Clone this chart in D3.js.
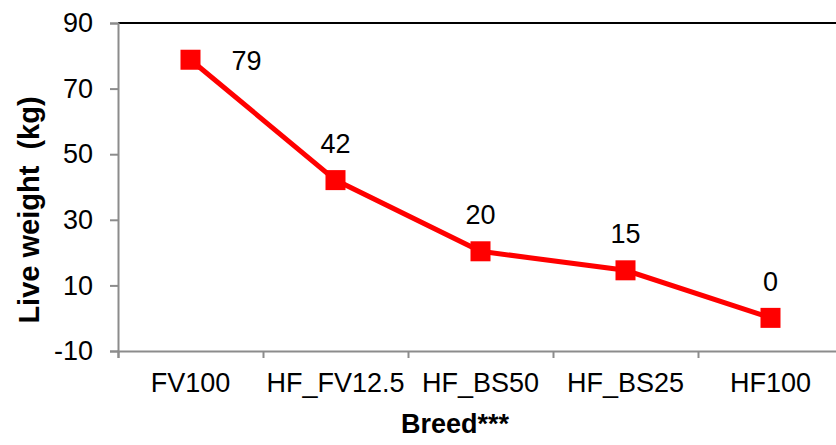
<!DOCTYPE html>
<html>
<head>
<meta charset="utf-8">
<script src="https://cdn.jsdelivr.net/npm/d3@7"></script>
<style>
  body { margin: 0; background: #fff; }
  text { font-family: "Liberation Sans", Arial, sans-serif; }
</style>
</head>
<body>
<div id="chart"></div>
<script>
// chart data
var breeds = ["FV100", "HF_FV12.5", "HF_BS50", "HF_BS25", "HF100"]
var weights = [78.8, 42.1, 20.4, 14.6, 0.1]
var yTicks = [-10, 10, 30, 50, 70, 90]

var width = 836
var height = 445
var margin = {top: 23, left: 118, bottom: 94}

var svg = d3.select("#chart")
  .append("svg")
    .attr("width", width)
    .attr("height", height)

// 5 bands of equal width, the last one runs off the right edge
var x = d3.scaleBand()
  .domain(breeds)
  .range([margin.left, margin.left + 145 * breeds.length])

var y = d3.scaleLinear()
  .domain([-10, 90])
  .range([height - margin.bottom, margin.top])

var grey = "#8c8c8c"

// top border of plot area
svg.append("line")
  .attr("x1", margin.left).attr("x2", width)
  .attr("y1", y(90)).attr("y2", y(90))
  .attr("stroke", "#000").attr("stroke-width", 2)

// y axis
var yAxis = svg.append("g")
  .attr("transform", "translate(" + margin.left + ",0)")
  .call(d3.axisLeft(y).tickValues(yTicks).tickSize(8).tickPadding(17)
    .tickFormat(function(d) { return d < 0 ? "-" + Math.abs(d) : d }))
yAxis.select(".domain").attr("stroke", grey).attr("stroke-width", 2)
yAxis.selectAll(".tick line").attr("stroke", grey).attr("stroke-width", 2)
yAxis.selectAll(".tick text")
  .attr("font-size", 27).attr("fill", "#000")
  .attr("font-family", "Liberation Sans, Arial, sans-serif")

// x axis: ticks on band boundaries, labels in the middle
var bounds = d3.scaleLinear().domain([0, breeds.length]).range(x.range())
var xTickAxis = svg.append("g")
  .attr("transform", "translate(0," + y(-10) + ")")
  .call(d3.axisBottom(bounds).ticks(breeds.length).tickSize(7).tickFormat(""))
xTickAxis.select(".domain").attr("stroke", grey).attr("stroke-width", 2)
xTickAxis.selectAll(".tick line").attr("stroke", grey).attr("stroke-width", 2)

var xLabelAxis = svg.append("g")
  .attr("transform", "translate(0," + y(-10) + ")")
  .call(d3.axisBottom(x).tickSize(0).tickPadding(22))
xLabelAxis.select(".domain").remove()
xLabelAxis.selectAll(".tick text")
  .attr("font-size", 27).attr("fill", "#000")
  .attr("font-family", "Liberation Sans, Arial, sans-serif")

// axis titles
svg.append("text")
  .attr("transform", "translate(39,210) rotate(-90)")
  .attr("text-anchor", "middle")
  .attr("font-size", 29)
  .attr("font-weight", "bold")
  .style("white-space", "pre")
  .text("Live weight  (kg)")

svg.append("text")
  .attr("x", 455)
  .attr("y", 433)
  .attr("text-anchor", "middle")
  .attr("font-size", 27)
  .attr("font-weight", "bold")
  .text("Breed***")

// line + markers
var cx = function(d, i) { return x(breeds[i]) + x.bandwidth() / 2 }

var line = d3.line()
  .x(cx)
  .y(function(d) { return y(d) })

svg.append("path")
  .datum(weights)
  .attr("d", line)
  .attr("fill", "none")
  .attr("stroke", "#ff0000")
  .attr("stroke-width", 5)

svg.selectAll(".marker")
  .data(weights)
  .enter()
  .append("rect")
    .attr("class", "marker")
    .attr("x", function(d, i) { return cx(d, i) - 10 })
    .attr("y", function(d) { return y(d) - 10 })
    .attr("width", 20)
    .attr("height", 20)
    .attr("fill", "#ff0000")

// value labels: above the point, or to the right when it would hit the top
var nearTop = function(d) { return y(d) - 37 < y(86) }
svg.selectAll(".label")
  .data(weights)
  .enter()
  .append("text")
    .attr("class", "label")
    .attr("font-size", 27)
    .attr("text-anchor", "middle")
    .attr("x", function(d, i) { return nearTop(d) ? cx(d, i) + 56 : cx(d, i) })
    .attr("y", function(d) { return nearTop(d) ? y(d) + 10 : y(d) - 27 })
    .text(function(d) { return d3.format(".0f")(d) })
</script>
</body>
</html>
